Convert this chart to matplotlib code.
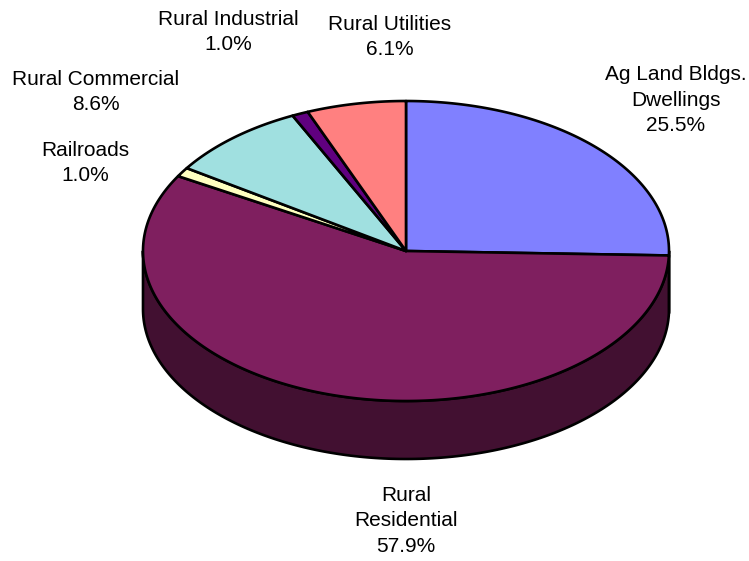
import numpy as np
import matplotlib
matplotlib.use("Agg")
import matplotlib.pyplot as plt
from matplotlib.patches import Polygon

# assessed value share by property class
categories = ["Ag Land Bldgs.\nDwellings", "Rural\nResidential", "Railroads",
              "Rural Commercial", "Rural Industrial", "Rural Utilities"]
shares = [25.5, 57.9, 1.0, 8.6, 1.0, 6.1]
colors = ["#8080FF", "#7F1F5F", "#FFFFC0", "#A0E0E0", "#600080", "#FF8080"]

# label anchor points (pixels, origin top-left)
label_xy = [(676, 100), (406, 521), (85, 163), (96, 92), (228, 32), (390, 37)]

# pie geometry in pixels
cx, cy = 406, 251
rx, ry = 263, 150
depth = 58

W, H = 749, 561
fig = plt.figure(figsize=(W / 100, H / 100), dpi=100)
ax = fig.add_axes([0, 0, 1, 1])
ax.set_xlim(0, W)
ax.set_ylim(H, 0)
ax.axis("off")


def rim(theta, dy=0.0):
    # theta in degrees, clockwise from 12 o'clock
    t = np.radians(theta)
    return cx + rx * np.sin(t), cy - ry * np.cos(t) + dy


def shade(hex_color, f=0.52):
    r, g, b = matplotlib.colors.to_rgb(hex_color)
    return (r * f, g * f, b * f)


total = sum(shares)
bounds = np.concatenate([[0], np.cumsum(shares)]) / total * 360.0

# side walls: only the front half (90..270 deg) faces the viewer
for i, col in enumerate(colors):
    a, b = max(bounds[i], 90), min(bounds[i + 1], 270)
    if b <= a:
        continue
    th = np.linspace(a, b, 200)
    xt, yt = rim(th)
    xb, yb = rim(th[::-1], depth)
    pts = np.column_stack([np.concatenate([xt, xb]), np.concatenate([yt, yb])])
    ax.add_patch(Polygon(pts, closed=True, facecolor=shade(col),
                         edgecolor="black", linewidth=1.9, joinstyle="round"))

# top faces
for i, col in enumerate(colors):
    th = np.linspace(bounds[i], bounds[i + 1], 300)
    xs, ys = rim(th)
    pts = np.column_stack([np.concatenate([[cx], xs]), np.concatenate([[cy], ys])])
    ax.add_patch(Polygon(pts, closed=True, facecolor=col,
                         edgecolor="black", linewidth=1.9, joinstyle="round"))

for name, val, (lx, ly) in zip(categories, shares, label_xy):
    ax.text(lx, ly, f"{name}\n{val:.1f}%", ha="center", va="center",
            fontsize=15, family="Liberation Sans", linespacing=1.45,
            color="black")

fig.savefig("out.png", dpi=100)
